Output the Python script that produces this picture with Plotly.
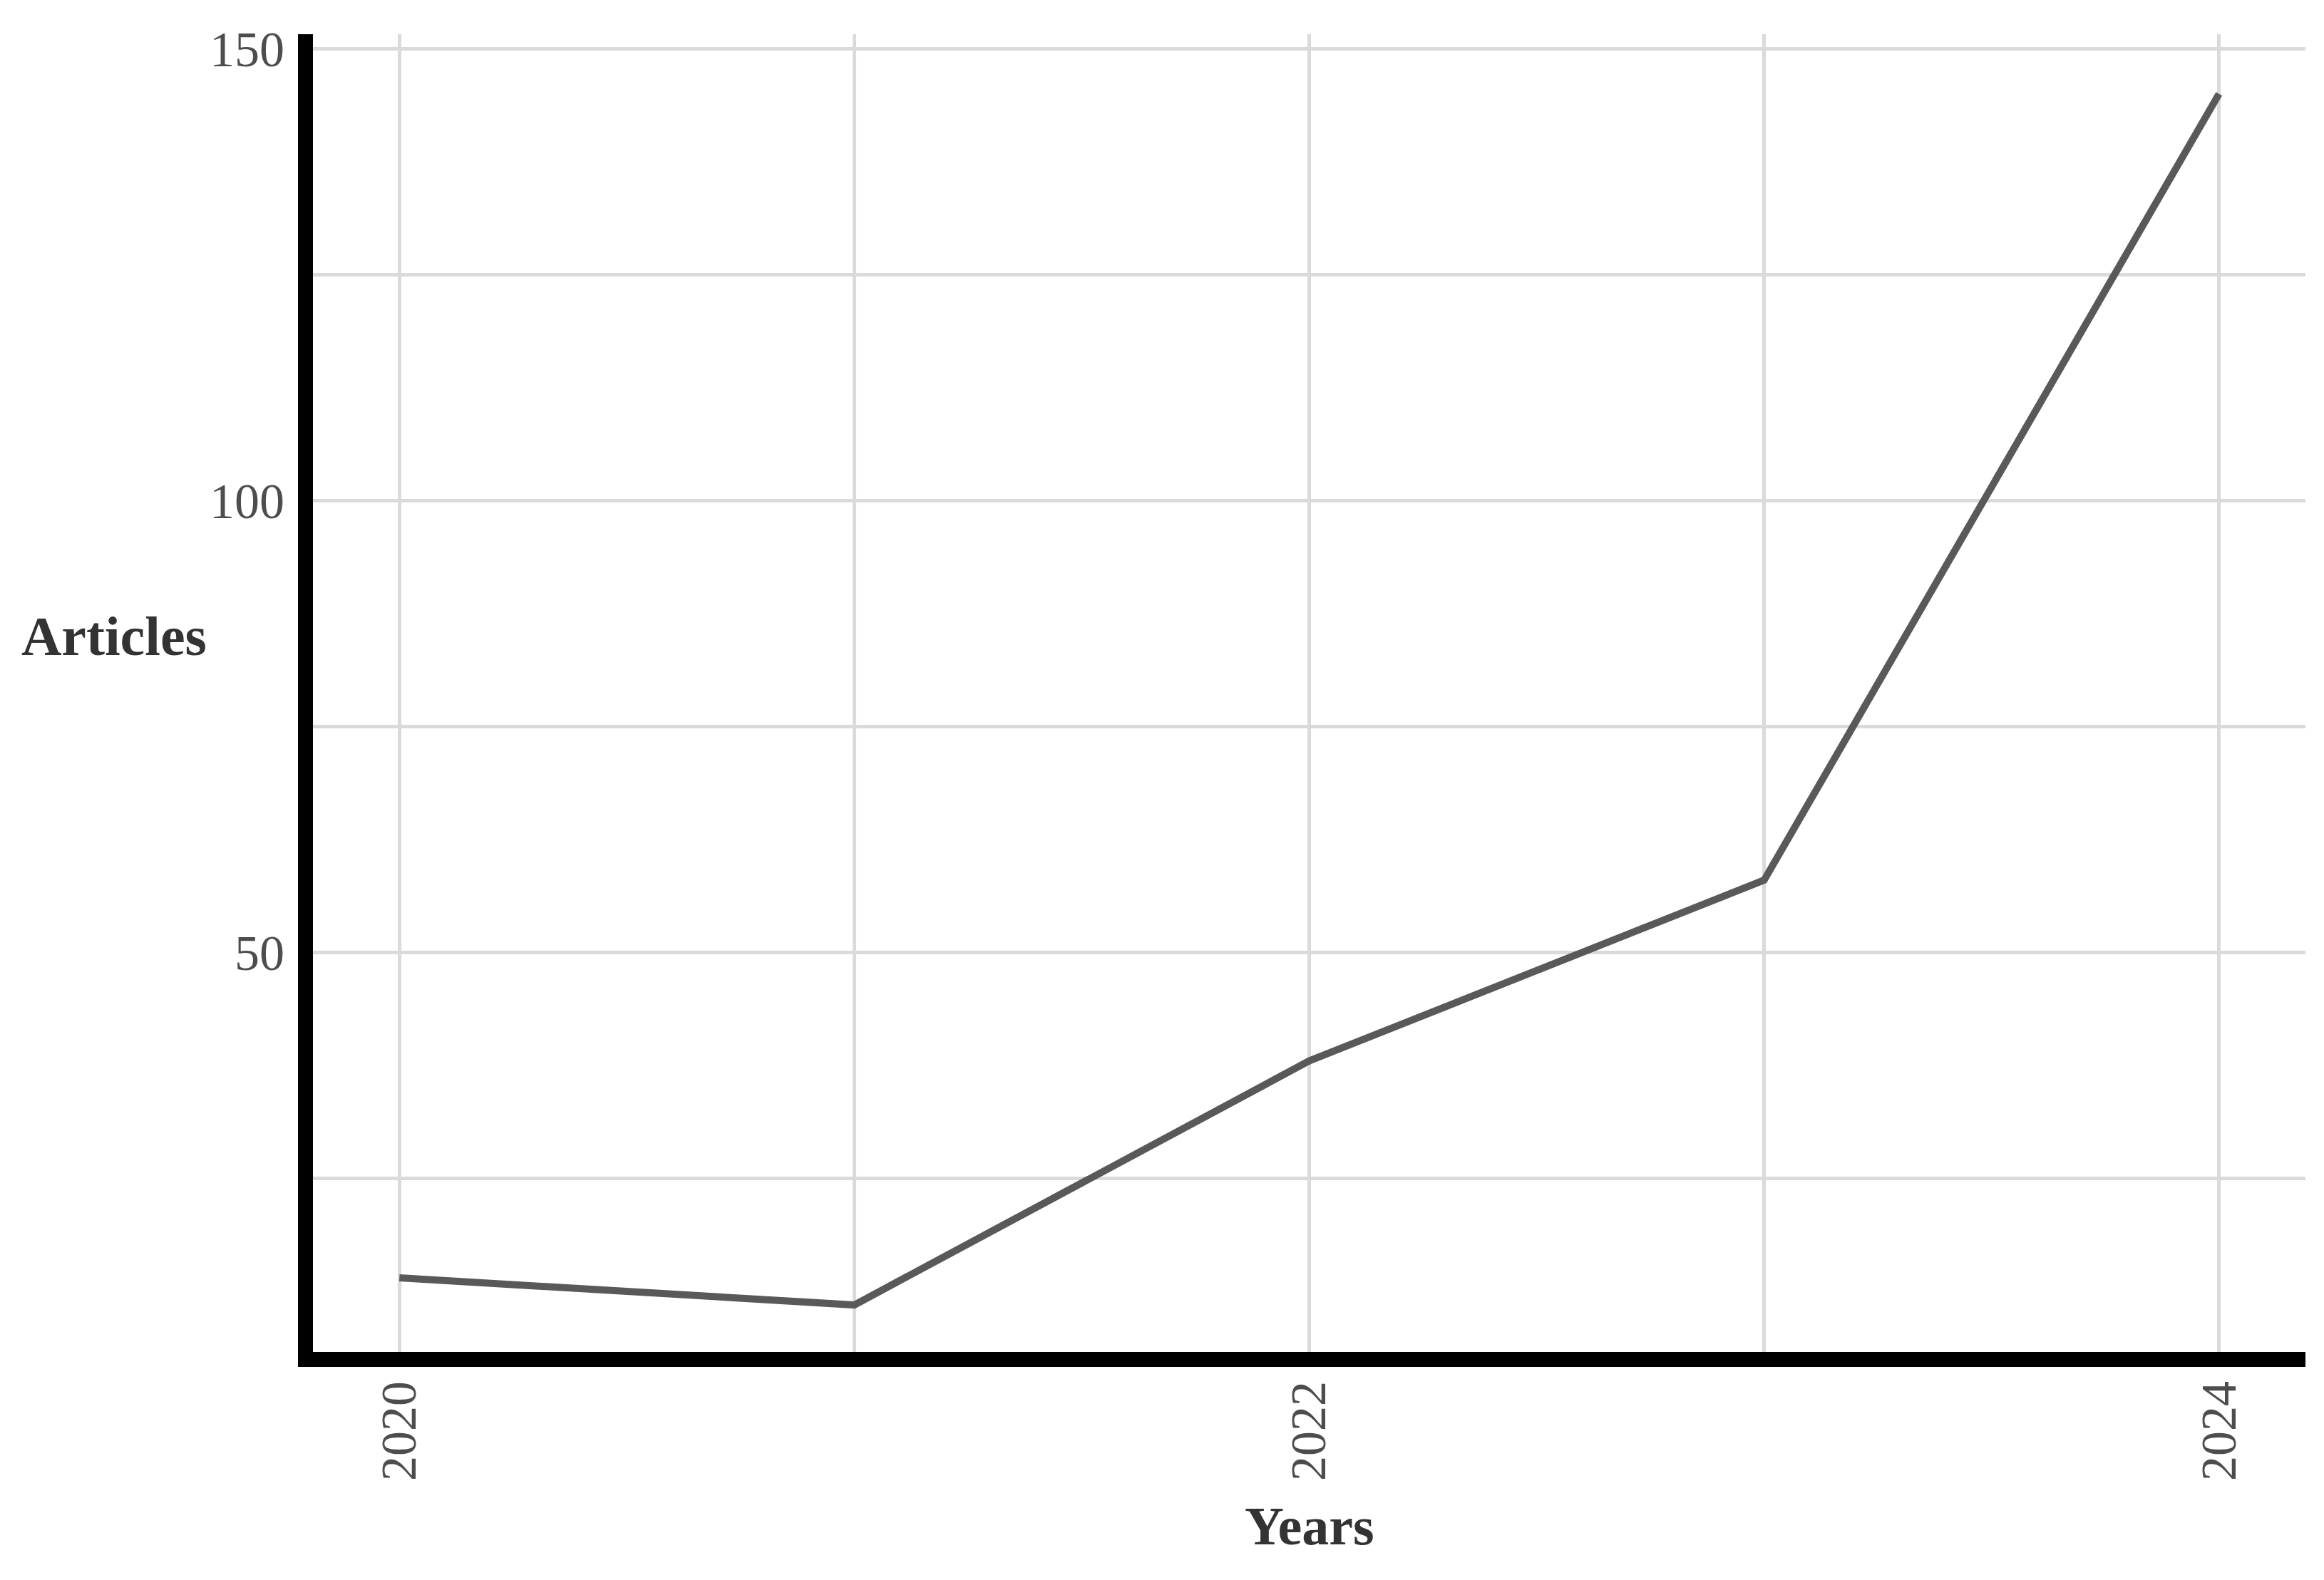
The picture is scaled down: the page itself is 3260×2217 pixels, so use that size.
import plotly.graph_objects as go

# articles per year
anos = [2020, 2021, 2022, 2023, 2024]
artigos = [14, 11, 38, 58, 145]

fonte = "Liberation Serif"
cinza_grid = "#dadada"

fig = go.Figure()
fig.add_trace(go.Scatter(x=anos, y=artigos, mode="lines",
                         line=dict(color="#595959", width=10),
                         showlegend=False))

# page body adds 8px around the figure, so size and margins are trimmed for it
fig.update_layout(width=3244, height=2201,
                  margin=dict(l=431, r=18, t=40, b=312),
                  plot_bgcolor="white", paper_bgcolor="white",
                  font=dict(family=fonte, size=70, color="#4d4d4d"))

fig.update_xaxes(range=[2019.81, 2024.19], tick0=2020, dtick=2, tickangle=-90,
                 showline=True, linecolor="black", linewidth=21,
                 showgrid=True, gridcolor=cinza_grid, gridwidth=5,
                 minor=dict(dtick=1, showgrid=True, gridcolor=cinza_grid, gridwidth=5),
                 ticks="", zeroline=False, ticklabelstandoff=-8)
fig.update_yaxes(range=[5.8, 151.6], tick0=0, dtick=50,
                 showline=True, linecolor="black", linewidth=21,
                 showgrid=True, gridcolor=cinza_grid, gridwidth=5,
                 minor=dict(dtick=25, showgrid=True, gridcolor=cinza_grid, gridwidth=5),
                 ticks="", zeroline=False, ticklabelstandoff=5)

# axis titles
fig.add_annotation(text="<b>Articles</b>", xref="paper", yref="paper",
                   x=-0.0998, y=0.543, xanchor="center", yanchor="middle",
                   showarrow=False,
                   font=dict(family=fonte, size=78, color="#333333"))
fig.add_annotation(text="<b>Years</b>", xref="paper", yref="paper",
                   x=0.5, y=-0.132, xanchor="center", yanchor="middle",
                   showarrow=False,
                   font=dict(family=fonte, size=76, color="#333333"))

fig.write_html("out.html")
